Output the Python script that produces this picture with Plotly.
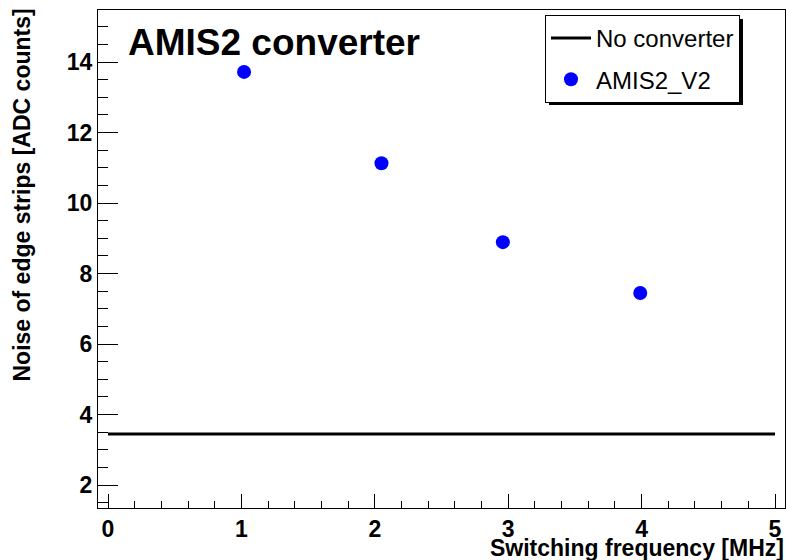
import plotly.graph_objects as go

# Data
freq_mhz = [1.02, 2.05, 2.96, 3.99]
noise_amis2_v2 = [13.72, 11.13, 8.89, 7.45]
ref_x = [0, 5]
ref_noise = [3.45, 3.45]

title_text = "AMIS2 converter"
x_title = "Switching frequency [MHz]"
y_title = "Noise of edge strips [ADC counts]"

FONT = "Liberation Sans, Arial, Helvetica, sans-serif"

fig = go.Figure()
fig.add_trace(go.Scatter(
    x=ref_x, y=ref_noise, mode="lines", name="No converter",
    line=dict(color="black", width=3), legendgroup="a"))
fig.add_trace(go.Scatter(
    x=freq_mhz, y=noise_amis2_v2, mode="markers", name="AMIS2_V2",
    marker=dict(color="#0000ff", size=14), legendgroup="b"))

W, H = 786, 560
L, R, T, B = 98, 1, 10, 52
pw, ph = W - L - R, H - T - B

def px(xp):
    return (xp - L) / pw

def py(yp):
    return (H - B - yp) / ph

fig.update_layout(
    width=W, height=H,
    margin=dict(l=L, r=R, t=T, b=B, pad=0),
    paper_bgcolor="white", plot_bgcolor="white",
    font=dict(family=FONT, color="black"),
    showlegend=True,
    legend=dict(
        x=px(545), y=py(15), xanchor="left", yanchor="top",
        bgcolor="white", bordercolor="black", borderwidth=1,
        font=dict(size=24, family=FONT, color="black"),
        tracegroupgap=7, itemwidth=40,
    ),
    xaxis=dict(
        range=[-0.075, 5.075], showgrid=False, zeroline=False,
        showline=True, linecolor="black", linewidth=1, mirror=True,
        ticks="inside", ticklen=14, tickcolor="black", tick0=0, dtick=1,
        tickfont=dict(size=23, family=FONT, weight="bold"),
        minor=dict(ticks="inside", ticklen=7, tickcolor="black", dtick=0.2, tick0=0),
    ),
    yaxis=dict(
        range=[1.35, 15.475], showgrid=False, zeroline=False,
        showline=True, linecolor="black", linewidth=1, mirror=True,
        ticks="inside", ticklen=20, tickcolor="black", tick0=0, dtick=2,
        tickfont=dict(size=23, family=FONT, weight="bold"),
        minor=dict(ticks="inside", ticklen=10, tickcolor="black", dtick=0.5, tick0=0),
    ),
    shapes=[dict(type="rect", xref="paper", yref="paper",
                 x0=px(549), x1=px(743), y0=py(19), y1=py(105),
                 fillcolor="black", line=dict(width=0), layer="above")],
    annotations=[
        dict(text=title_text, xref="paper", yref="paper", x=px(126), y=py(42),
             xanchor="left", yanchor="middle", showarrow=False,
             font=dict(size=37, family=FONT, weight="bold")),
        dict(text=x_title, xref="paper", yref="paper", x=px(786), y=py(548),
             xanchor="right", yanchor="middle", showarrow=False,
             font=dict(size=23, family=FONT, weight="bold")),
        dict(text=y_title, xref="paper", yref="paper", x=px(22), y=py(7),
             xanchor="center", yanchor="top", textangle=-90, showarrow=False,
             font=dict(size=23, family=FONT, weight="bold")),
    ],
)

fig.write_html("out.html",
               config={"displayModeBar": False},
               post_script="document.body.style.margin='0';document.body.style.overflow='hidden';")
